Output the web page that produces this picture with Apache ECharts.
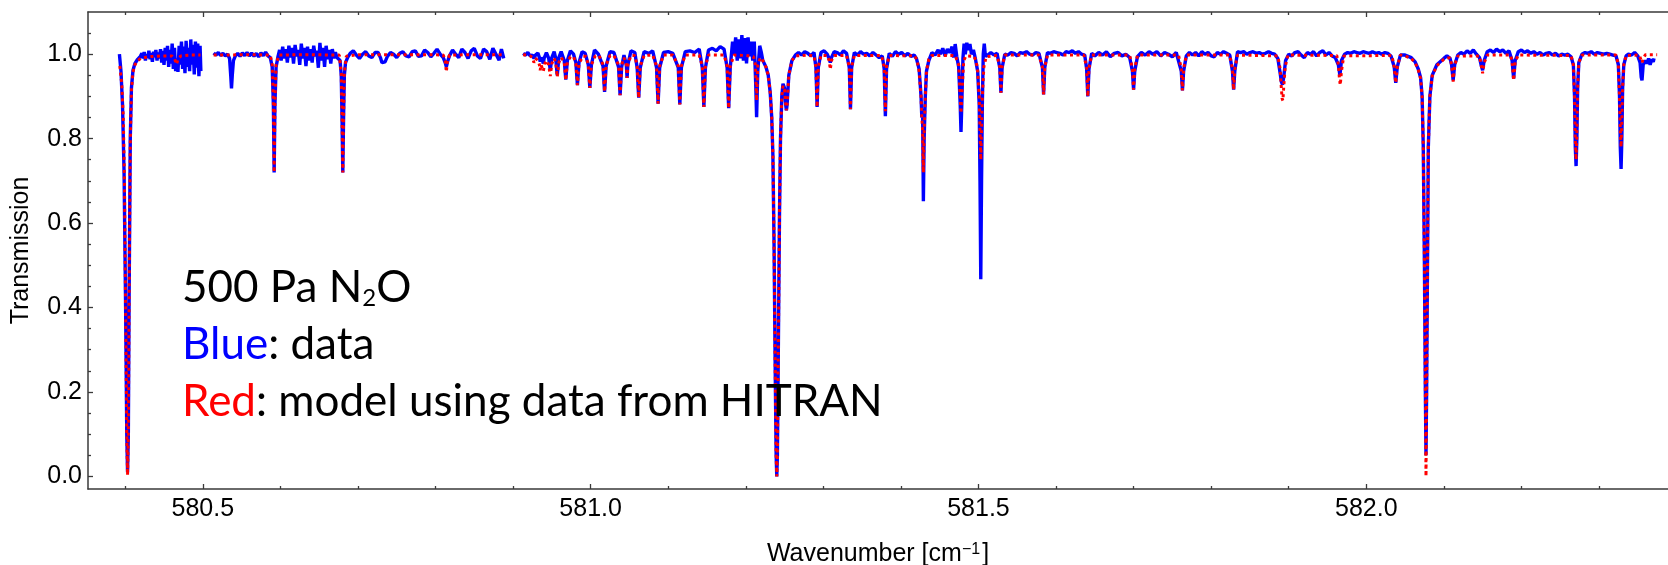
<!DOCTYPE html>
<html><head><meta charset="utf-8">
<script src="https://cdn.jsdelivr.net/npm/echarts@6/dist/echarts.min.js"></script>
<style>html,body{margin:0;padding:0;background:#fff}#c{width:1668px;height:565px}</style>
</head><body><div id="c"></div>
<script>
// ---- tick values ----
const xMajorTicks = [580.5, 581.0, 581.5, 582.0];
const xMinorTicks = [580.4,580.6,580.7,580.8,580.9,581.1,581.2,581.3,581.4,581.6,581.7,581.8,581.9,582.1,582.2,582.3];
const yMajorTicks = [0, 0.2, 0.4, 0.6, 0.8, 1.0];
const yMinorTicks = [0.05,0.1,0.15,0.25,0.3,0.35,0.45,0.5,0.55,0.65,0.7,0.75,0.85,0.9,0.95,1.05];

// ---- Blue: measured data (three segments, gaps between) ----
const blueA = [[580.3925,1.000],[580.3945,0.960],[580.3965,0.880],[580.3985,0.720],[580.4005,0.400],[580.4020,0.100],[580.4030,0.010],[580.4040,0.100],[580.4050,0.420],[580.4065,0.800],[580.4080,0.920],[580.4100,0.962],[580.4125,0.978],[580.4160,0.988],[580.4195,0.995],
[580.4215,1.002],[580.423,0.990],[580.4245,1.005],[580.426,0.985],[580.4275,1.000],[580.429,0.992],[580.4305,1.008],[580.432,0.988],[580.4335,1.003],[580.435,0.982],[580.4365,1.006],[580.438,0.993],[580.4395,1.010],[580.441,0.985],[580.4425,1.004],[580.444,0.990],[580.4455,1.012],[580.447,0.980],[580.4485,1.008],[580.450,0.975],[580.4515,1.015],[580.453,0.985],[580.4545,1.020],[580.456,0.970],[580.4575,1.010],[580.459,0.978],[580.4605,1.025],[580.462,0.965],[580.4635,1.015],[580.465,0.960],[580.4665,0.990],[580.468,0.958],[580.4695,1.020],[580.471,0.975],[580.4725,1.030],[580.474,0.965],[580.4755,1.018],[580.477,0.955],[580.4785,1.032],[580.480,0.970],[580.4815,1.015],[580.483,0.960],[580.4845,1.035],[580.486,0.975],[580.4875,1.022],[580.489,0.952],[580.4905,1.030],[580.492,0.968],[580.4935,1.025],[580.495,0.948],[580.4965,1.020],[580.4975,0.960]];

const blueB = [[580.514,1.003],[580.517,0.998],[580.520,1.004],[580.523,0.997],[580.526,1.002],[580.529,0.996],[580.532,1.000],[580.5345,0.990],[580.5360,0.950],[580.5370,0.919],[580.5380,0.950],[580.5395,0.985],[580.542,0.996],[580.545,1.002],[580.548,0.995],[580.551,1.003],[580.554,0.997],[580.557,1.004],[580.560,0.996],[580.563,1.003],[580.566,0.995],[580.569,1.002],[580.572,0.994],[580.575,1.003],[580.578,0.997],[580.581,1.005],[580.584,0.996],[580.587,0.992],[580.5895,0.970],[580.5910,0.880],[580.5920,0.720],[580.5930,0.880],[580.5945,0.970],[580.597,0.995],
[580.599,1.010],[580.601,0.985],[580.603,1.018],[580.605,0.990],[580.607,1.012],[580.609,0.980],[580.611,1.020],[580.613,0.992],[580.615,1.015],[580.617,0.978],[580.619,1.022],[580.621,0.995],[580.623,1.010],[580.625,0.975],[580.627,1.025],[580.629,0.990],[580.631,1.015],[580.633,0.972],[580.635,1.018],[580.637,0.985],[580.639,1.012],[580.641,0.980],[580.643,1.020],[580.645,0.995],[580.647,1.008],[580.649,0.968],[580.651,1.027],[580.653,0.985],[580.655,1.015],[580.657,0.970],[580.659,1.020],[580.661,0.988],[580.663,1.010],[580.665,0.978],[580.667,1.012],[580.669,0.990],[580.671,1.005],[580.673,0.992],[580.675,0.995],
[580.677,0.985],[580.6785,0.950],[580.6795,0.850],[580.6805,0.720],[580.6815,0.850],[580.6825,0.950],[580.684,0.980],[580.687,0.993],
[580.690,1.002],[580.694,1.008],[580.698,0.998],[580.702,0.990],[580.706,1.000],[580.710,1.006],[580.714,0.996],[580.718,0.992],[580.722,1.004],[580.726,1.004],[580.729,0.992],[580.731,0.980],[580.733,0.976],[580.735,0.982],[580.738,0.995],[580.742,1.004],[580.746,1.000],[580.750,0.992],[580.754,1.002],[580.758,1.006],[580.762,0.996],[580.766,0.994],[580.770,1.006],[580.774,1.008],[580.778,0.995],[580.782,0.996],[580.786,1.010],[580.790,1.004],[580.794,0.994],[580.798,1.002],[580.802,1.012],[580.806,1.000],[580.810,0.992],[580.8125,0.980],[580.814,0.970],[580.8155,0.982],[580.818,0.996],[580.822,1.010],[580.826,1.000],[580.830,0.992],[580.834,1.012],[580.838,1.004],[580.842,0.990],[580.846,1.008],[580.850,1.014],[580.854,0.996],[580.858,0.990],[580.862,1.012],[580.866,1.006],[580.870,0.988],[580.874,1.014],[580.878,1.000],[580.882,0.986],[580.885,1.012],[580.888,0.990]];

const blueC = [[580.913,1.002],[580.916,0.998],[580.919,1.004],[580.922,0.996],[580.925,0.998],[580.927,0.990],[580.929,0.998],[580.932,1.003],[580.934,0.992],[580.935,0.982],[580.936,0.992],[580.938,0.985],[580.939,0.978],[580.940,0.990],[580.943,1.004],[580.946,0.990],[580.948,0.962],[580.950,0.992],[580.953,1.006],[580.955,0.990],[580.957,0.950],[580.959,0.992],[580.962,1.006],[580.966,0.985],[580.968,0.940],[580.970,0.985],[580.974,1.008],[580.978,1.000],[580.981,0.980],[580.983,0.927],[580.985,0.980],[580.989,1.006],[580.993,1.002],[580.997,0.975],[580.999,0.920],[581.001,0.975],[581.005,1.010],[581.010,1.000],[581.016,0.972],[581.018,0.911],[581.020,0.972],[581.025,1.006],[581.030,1.004],[581.036,0.970],[581.038,0.903],[581.040,0.970],[581.043,0.998],[581.046,0.975],[581.047,0.944],[581.048,0.975],[581.052,1.008],[581.057,1.004],[581.060,0.968],[581.062,0.897],[581.064,0.968],[581.069,1.006],[581.075,1.002],[581.080,1.008],[581.085,0.968],[581.087,0.883],[581.089,0.968],[581.094,1.004],[581.100,1.006],[581.106,1.002],[581.113,0.968],[581.115,0.881],[581.117,0.968],[581.122,1.006],[581.128,1.008],[581.134,1.004],[581.140,1.012],[581.144,0.968],[581.146,0.875],[581.148,0.968],[581.152,1.010],[581.157,1.014],[581.162,1.008],[581.167,1.018],[581.172,1.012],[581.176,0.968],[581.178,0.872],[581.180,0.968],[581.183,1.030],[581.185,1.000],[581.187,1.040],[581.189,0.985],[581.191,1.035],[581.193,0.990],[581.195,1.045],[581.197,0.985],[581.199,1.038],[581.201,0.978],[581.203,1.040],[581.205,0.995],[581.207,1.030],[581.209,0.985],[581.211,1.030],[581.213,0.920],[581.214,0.851],[581.2155,0.960],[581.218,1.020],[581.220,1.005],
[581.222,0.985],[581.226,0.970],[581.229,0.950],[581.2315,0.910],[581.2335,0.850],[581.235,0.760],[581.2365,0.550],[581.238,0.250],[581.2392,0.050],[581.2400,0.000],[581.2408,0.050],[581.2420,0.300],[581.2435,0.620],[581.2448,0.800],[581.2465,0.900],[581.2480,0.930],[581.2500,0.920],[581.2515,0.880],[581.2524,0.867],[581.2533,0.880],[581.2555,0.950],[581.2595,0.985],[581.264,0.998],
[581.268,1.004],[581.272,0.998],[581.276,1.006],[581.280,1.002],[581.284,0.996],[581.288,1.004],[581.2905,0.968],[581.292,0.875],[581.2935,0.968],[581.297,1.004],[581.301,1.008],[581.305,1.000],[581.3075,0.990],[581.309,0.980],[581.3105,0.992],[581.314,1.006],[581.318,1.004],[581.322,0.998],[581.326,1.008],[581.330,1.002],[581.3335,0.968],[581.335,0.870],[581.3365,0.968],[581.340,1.004],[581.344,0.998],[581.348,1.006],[581.352,1.000],[581.356,1.002],[581.360,0.996],[581.364,1.004],[581.368,0.998],[581.372,0.992],[581.376,0.996],[581.3785,0.965],[581.380,0.853],[581.3815,0.965],[581.385,1.002],[581.389,0.995],[581.393,1.006],[581.397,1.000],[581.401,1.004],[581.405,0.996],[581.409,1.002],[581.413,0.995],[581.417,0.998],[581.420,0.990],[581.4235,0.965],[581.426,0.900],[581.427,0.850],[581.428,0.870],[581.4290,0.652],[581.4300,0.800],[581.4315,0.900],[581.433,0.960],[581.436,0.985],[581.440,1.004],[581.444,0.998],[581.448,1.010],[581.451,1.000],[581.454,1.014],[581.457,0.996],[581.460,1.012],[581.463,1.004],[581.466,1.018],[581.468,0.992],[581.470,1.024],[581.472,0.995],[581.4745,0.970],[581.4765,0.880],[581.4775,0.816],[581.4785,0.880],[581.480,0.990],[581.4815,1.025],[581.483,1.000],[581.485,1.027],[581.487,1.010],[581.489,1.024],[581.491,1.000],[581.4935,1.010],[581.496,0.990],[581.499,0.960],[581.501,0.880],[581.502,0.700],[581.503,0.467],[581.504,0.700],[581.505,0.880],[581.5062,1.000],[581.5075,1.025],[581.509,0.995],[581.512,0.998],[581.516,1.004],[581.520,0.998],[581.524,1.002],[581.5275,0.968],[581.529,0.909],[581.5305,0.968],[581.534,1.000],[581.538,0.998],[581.542,1.004],[581.546,1.002],[581.550,0.996],[581.554,1.004],[581.558,1.002],[581.562,1.006],[581.566,1.000],[581.570,0.998],[581.574,1.004],[581.578,1.002],[581.5825,0.968],[581.584,0.905],[581.5855,0.968],[581.589,1.004],[581.593,1.002],[581.597,1.006],[581.601,1.004],[581.605,1.002],[581.609,0.998],[581.613,1.006],[581.617,1.004],[581.621,1.008],[581.625,1.002],[581.629,1.006],[581.633,1.000],[581.637,0.998],[581.6395,0.965],[581.641,0.900],[581.6425,0.965],[581.646,1.002],
[581.650,0.996],[581.655,1.004],[581.660,0.998],[581.665,1.006],[581.670,0.994],[581.675,1.002],[581.680,1.004],[581.685,0.996],[581.690,1.000],[581.695,0.992],[581.6985,0.960],[581.700,0.916],[581.7015,0.960],[581.705,0.994],[581.710,1.004],[581.715,0.998],[581.720,1.006],[581.725,1.000],[581.730,1.006],[581.735,0.996],[581.740,1.004],[581.745,1.000],[581.750,0.994],[581.755,1.004],[581.7615,0.960],[581.763,0.914],[581.7645,0.960],[581.768,0.996],[581.772,1.004],[581.776,0.998],[581.780,1.004],[581.784,0.996],[581.788,1.006],[581.792,1.000],[581.796,1.004],[581.800,0.996],[581.804,0.994],[581.808,1.004],[581.812,1.000],[581.816,1.006],[581.820,1.002],[581.824,0.998],[581.8275,0.960],[581.829,0.916],[581.8305,0.960],[581.834,1.006],[581.838,1.004],[581.842,1.006],[581.846,1.000],[581.850,1.004],[581.854,1.006],[581.858,1.002],[581.862,1.004],[581.866,1.000],[581.870,1.002],[581.874,1.006],[581.878,1.002],[581.882,1.000],[581.886,0.990],[581.889,0.955],[581.8905,0.935],[581.892,0.928],[581.8935,0.945],[581.896,0.985],[581.900,1.000],[581.904,0.996],[581.908,1.004],[581.912,1.006],[581.916,0.998],[581.920,0.992],[581.924,1.004],[581.928,1.000],[581.932,1.006],[581.936,0.996],[581.940,1.004],[581.944,1.008],[581.948,0.998],[581.952,1.004],[581.956,0.996],[581.960,0.992],[581.964,0.975],[581.966,0.950],[581.968,0.985],[581.972,1.000],[581.976,1.004],[581.980,1.002],[581.984,1.006],[581.988,1.004],[581.992,1.002],[581.996,1.006],[582.000,1.004],[582.004,1.002],[582.008,1.006],[582.012,1.002],[582.016,1.004],[582.020,1.000],[582.024,1.004],[582.028,1.002],[582.032,0.995],[582.036,0.970],[582.038,0.932],[582.040,0.970],[582.044,0.998],
[582.050,0.998],[582.058,0.992],[582.063,0.982],[582.067,0.965],[582.070,0.945],[582.072,0.900],[582.0735,0.780],[582.075,0.500],[582.0762,0.200],[582.0770,0.050],[582.0778,0.200],[582.079,0.520],[582.080,0.780],[582.082,0.900],[582.085,0.950],[582.091,0.975],[582.100,0.990],
[582.104,0.996],[582.108,0.990],[582.110,0.975],[582.112,0.938],[582.114,0.975],[582.118,0.998],[582.122,1.004],[582.126,1.000],[582.130,1.008],[582.134,1.002],[582.138,1.010],[582.142,1.000],[582.146,0.992],[582.148,0.975],[582.150,0.962],[582.152,0.985],[582.156,1.006],[582.160,1.010],[582.164,1.004],[582.168,1.012],[582.172,1.006],[582.176,1.010],[582.180,1.002],[582.184,1.008],[582.188,0.985],[582.190,0.942],[582.192,0.985],[582.196,1.006],[582.200,1.010],[582.204,1.004],[582.208,1.008],[582.212,1.002],[582.216,1.006],[582.220,1.000],[582.224,1.004],[582.228,0.998],[582.232,1.002],[582.236,1.004],[582.240,0.998],[582.244,1.002],[582.248,0.996],[582.252,1.000],[582.256,0.998],[582.260,1.000],[582.264,0.994],[582.267,0.975],[582.2685,0.900],[582.2695,0.780],[582.2705,0.735],[582.2715,0.800],[582.2725,0.920],[582.274,0.980],[582.278,1.000],[582.282,1.004],[582.286,1.002],[582.290,1.006],[582.294,1.000],[582.298,1.004],[582.302,1.002],[582.306,1.000],[582.310,1.002],[582.314,1.000],[582.318,0.998],
[582.322,0.996],[582.325,0.975],[582.3265,0.900],[582.3275,0.780],[582.3285,0.728],[582.3295,0.800],[582.3305,0.920],[582.332,0.975],[582.335,0.996],[582.338,1.000],[582.342,0.998],[582.346,1.004],[582.350,0.996],[582.353,0.980],[582.3545,0.945],[582.3555,0.938],[582.357,0.975],[582.360,0.985],[582.362,0.978],[582.364,0.990],[582.366,0.975],[582.368,0.988],[582.370,0.982],[582.371,0.990]];

// ---- Red: HITRAN model (three segments) ----
const redA = [[580.393,0.972],[580.3955,0.930],[580.3975,0.850],[580.3990,0.700],[580.4005,0.400],[580.4020,0.100],[580.4030,0.003],[580.4040,0.100],[580.4050,0.420],[580.4065,0.790],[580.4080,0.915],[580.4100,0.958],[580.4125,0.975],[580.4160,0.985],[580.420,0.990],[580.430,0.994],[580.445,0.996],[580.460,0.996],[580.4635,0.990],[580.4660,0.976],[580.4685,0.990],[580.472,0.996],[580.485,0.998],[580.497,0.998]];

const redB = [[580.514,0.998],[580.530,0.998],[580.560,0.999],[580.587,0.998],[580.5895,0.975],[580.5910,0.885],[580.5920,0.720],[580.5930,0.885],[580.5945,0.975],[580.598,0.998],[580.630,0.999],[580.676,0.998],[580.6785,0.955],[580.6795,0.855],[580.6805,0.720],[580.6815,0.855],[580.6825,0.955],[580.685,0.995],[580.700,0.999],[580.730,0.999],[580.760,0.999],[580.790,0.999],[580.810,0.998],[580.8125,0.985],[580.8140,0.958],[580.8155,0.985],[580.818,0.998],[580.850,0.999],[580.888,0.999]];

const redC = [[580.913,0.999],[580.918,0.998],[580.922,0.996],[580.925,0.992],[580.927,0.980],[580.929,0.990],[580.932,0.985],[580.934,0.975],[580.935,0.962],[580.936,0.975],[580.938,0.972],[580.939,0.960],[580.941,0.978],[580.943,0.985],[580.946,0.975],[580.948,0.948],[580.950,0.978],[580.953,0.990],[580.955,0.980],[580.957,0.946],[580.959,0.980],[580.962,0.992],[580.966,0.982],[580.968,0.938],[580.970,0.982],[580.974,0.994],[580.978,0.994],[580.981,0.978],[580.983,0.927],[580.985,0.978],[580.990,0.995],[580.994,0.995],[580.997,0.975],[580.999,0.920],[581.001,0.975],[581.006,0.996],[581.011,0.996],[581.016,0.975],[581.018,0.911],[581.020,0.975],[581.025,0.997],[581.030,0.997],[581.036,0.975],[581.038,0.903],[581.040,0.975],[581.043,0.992],[581.046,0.975],[581.047,0.944],[581.048,0.975],[581.052,0.997],[581.057,0.997],[581.060,0.972],[581.062,0.897],[581.064,0.972],[581.069,0.997],[581.080,0.998],[581.085,0.972],[581.087,0.883],[581.089,0.972],[581.094,0.998],[581.106,0.998],[581.113,0.972],[581.115,0.881],[581.117,0.972],[581.122,0.998],[581.140,0.998],[581.144,0.972],[581.146,0.875],[581.148,0.972],[581.152,0.998],[581.172,0.998],[581.176,0.972],[581.178,0.872],[581.180,0.972],[581.185,0.998],[581.200,0.997],[581.210,0.994],[581.2125,0.975],[581.214,0.890],[581.2155,0.975],[581.219,0.992],
[581.222,0.985],[581.226,0.970],[581.229,0.950],[581.2315,0.910],[581.2335,0.850],[581.235,0.760],[581.2365,0.550],[581.238,0.250],[581.2392,0.050],[581.2400,0.000],[581.2408,0.050],[581.2420,0.300],[581.2435,0.620],[581.2448,0.800],[581.2465,0.900],[581.2480,0.925],[581.2500,0.915],[581.2515,0.880],[581.2524,0.867],[581.2533,0.880],[581.2555,0.950],[581.2595,0.985],[581.264,0.996],[581.280,0.998],[581.288,0.996],[581.2905,0.970],[581.292,0.875],[581.2935,0.970],[581.297,0.997],[581.305,0.997],[581.3075,0.985],[581.309,0.964],[581.3105,0.985],[581.314,0.997],[581.330,0.997],[581.3335,0.970],[581.335,0.870],[581.3365,0.970],[581.340,0.997],[581.375,0.997],[581.3785,0.970],[581.380,0.865],[581.3815,0.970],[581.385,0.997],[581.418,0.996],[581.421,0.985],[581.4235,0.960],[581.426,0.900],[581.427,0.850],[581.428,0.820],[581.4290,0.720],[581.4300,0.820],[581.4315,0.900],[581.433,0.960],[581.436,0.988],[581.440,0.997],[581.470,0.997],[581.4745,0.975],[581.4765,0.900],[581.4775,0.860],[581.4785,0.900],[581.481,0.985],[581.484,0.996],[581.494,0.995],[581.497,0.985],[581.499,0.960],[581.501,0.900],[581.502,0.820],[581.503,0.750],[581.504,0.820],[581.505,0.900],[581.507,0.970],[581.510,0.994],[581.524,0.997],[581.5275,0.970],[581.529,0.909],[581.5305,0.970],[581.534,0.998],[581.578,0.998],[581.5825,0.970],[581.584,0.905],[581.5855,0.970],[581.589,0.998],[581.636,0.998],[581.6395,0.968],[581.641,0.900],[581.6425,0.968],[581.646,0.998],[581.695,0.998],[581.6985,0.965],[581.700,0.916],[581.7015,0.965],[581.705,0.998],[581.758,0.998],[581.7615,0.965],[581.763,0.914],[581.7645,0.965],[581.768,0.998],[581.824,0.998],[581.8275,0.965],[581.829,0.916],[581.8305,0.965],[581.834,0.998],[581.886,0.996],[581.889,0.965],[581.8905,0.920],[581.8915,0.895],[581.8925,0.890],[581.8935,0.920],[581.8955,0.970],[581.899,0.998],[581.962,0.997],[581.964,0.975],[581.9655,0.940],[581.9665,0.927],[581.968,0.960],[581.971,0.996],[582.033,0.997],[582.036,0.970],[582.038,0.932],[582.040,0.970],[582.044,0.998],
[582.050,0.996],[582.058,0.990],[582.063,0.980],[582.067,0.963],[582.070,0.943],[582.072,0.900],[582.0735,0.780],[582.075,0.500],[582.0762,0.200],[582.0770,0.000],[582.0778,0.200],[582.079,0.520],[582.080,0.780],[582.082,0.900],[582.085,0.948],[582.091,0.973],[582.100,0.988],[582.108,0.992],[582.110,0.975],[582.112,0.935],[582.114,0.975],[582.118,0.996],[582.146,0.996],[582.148,0.975],[582.150,0.955],[582.152,0.980],[582.156,0.998],[582.186,0.998],[582.188,0.982],[582.190,0.938],[582.192,0.982],[582.196,0.998],[582.264,0.997],[582.267,0.975],[582.2685,0.900],[582.2695,0.800],[582.2705,0.750],[582.2715,0.810],[582.2725,0.920],[582.274,0.980],[582.278,0.998],[582.322,0.998],[582.325,0.975],[582.3265,0.900],[582.3275,0.820],[582.3285,0.780],[582.3295,0.840],[582.3305,0.920],[582.332,0.975],[582.335,0.997],[582.352,0.998],[582.3545,0.985],[582.3555,0.980],[582.357,0.990],[582.360,0.999],[582.375,0.999]];

const XMIN = 580.352, XMAX = 582.389, YMIN = -0.03, YMAX = 1.1;
const AXC = '#3a3a3a';
const AXF = "'Liberation Sans', Arial, sans-serif";

const chart = echarts.init(document.getElementById('c'), null, {renderer: 'canvas'});
function xax(pos, major, extra) {
  return Object.assign({
    type: 'value', min: XMIN, max: XMAX, position: pos,
    axisLine: {show: false, onZero: false, lineStyle: {color: AXC, width: 1.5}},
    axisTick: {show: true, inside: true, length: major ? 5 : 3, customValues: major ? xMajorTicks : xMinorTicks, lineStyle: {color: AXC, width: 1.3}},
    axisLabel: {show: false},
    splitLine: {show: false}
  }, extra || {});
}
function yax(pos, major, extra) {
  return Object.assign({
    type: 'value', min: YMIN, max: YMAX, position: pos,
    axisLine: {show: false, onZero: false, lineStyle: {color: AXC, width: 1.5}},
    axisTick: {show: true, inside: true, length: major ? 5 : 3, customValues: major ? yMajorTicks : yMinorTicks, lineStyle: {color: AXC, width: 1.3}},
    axisLabel: {show: false},
    splitLine: {show: false}
  }, extra || {});
}
const lineBlue = {color: '#0000ff', width: 3.4};
const lineRed = {color: '#ff0000', width: 3, type: [3, 3.5], cap: 'butt'};
function ser(data, ls) {
  return {type: 'line', data: data, xAxisIndex: 0, yAxisIndex: 0, showSymbol: false, symbol: 'none',
    lineStyle: ls, silent: true, animation: false, clip: true};
}
chart.setOption({
  animation: false,
  backgroundColor: '#ffffff',
  grid: {left: 88, top: 12, right: 0, height: 477, containLabel: false, outerBoundsMode: 'none'},
  xAxis: [
    xax('bottom', true, {
      axisLine: {show: true, onZero: false, lineStyle: {color: AXC, width: 1.5}},
      axisLabel: {show: true, customValues: xMajorTicks, formatter: v => v.toFixed(1), color: '#000', fontSize: 25, fontFamily: AXF, margin: 8},
      name: '{a|Wavenumber [cm}{s|\u22121}{a|]}', nameLocation: 'middle', nameGap: 53,
      nameTextStyle: {rich: {a: {fontSize: 25, fontFamily: AXF, color: '#000'}, s: {fontSize: 16, fontFamily: AXF, color: '#000', verticalAlign: 'top', lineHeight: 4, padding: [0, 2, 0, 0]}}}
    }),
    xax('bottom', false),
    xax('top', true, {axisLine: {show: true, onZero: false, lineStyle: {color: AXC, width: 1.5}}}),
    xax('top', false)
  ],
  yAxis: [
    yax('left', true, {
      axisLine: {show: true, onZero: false, lineStyle: {color: AXC, width: 1.5}},
      axisLabel: {show: true, customValues: yMajorTicks, formatter: v => v.toFixed(1), color: '#000', fontSize: 25, fontFamily: AXF, margin: 6},
      name: 'Transmission', nameLocation: 'middle', nameGap: 54,
      nameTextStyle: {fontSize: 25, fontFamily: AXF, color: '#000'}
    }),
    yax('left', false)
  ],
  series: [ser(blueA, lineBlue), ser(blueB, lineBlue), ser(blueC, lineBlue),
           ser(redA, lineRed), ser(redB, lineRed), ser(redC, lineRed)],
  graphic: [
    {type: 'text', x: 182, y: 288, z: 100, style: {text: '500 Pa N{sub|2}O', fontSize: 44, fontFamily: 'Lato', fill: '#000', verticalAlign: 'middle',
      rich: {sub: {fontSize: 24, fontFamily: 'Lato', fill: '#000', verticalAlign: 'bottom', lineHeight: 30}}}},
    {type: 'text', x: 182, y: 345, z: 100, style: {text: '{b|Blue}: data', fontSize: 44, fontFamily: 'Lato', fill: '#000', verticalAlign: 'middle',
      rich: {b: {fontSize: 44, fontFamily: 'Lato', fill: '#0000ff'}}}},
    {type: 'text', x: 182, y: 402, z: 100, style: {text: '{r|Red}: model using data from HITRAN', fontSize: 44, fontFamily: 'Lato', fill: '#000', verticalAlign: 'middle',
      rich: {r: {fontSize: 44, fontFamily: 'Lato', fill: '#ff0000'}}}}
  ]
});
</script></body></html>
